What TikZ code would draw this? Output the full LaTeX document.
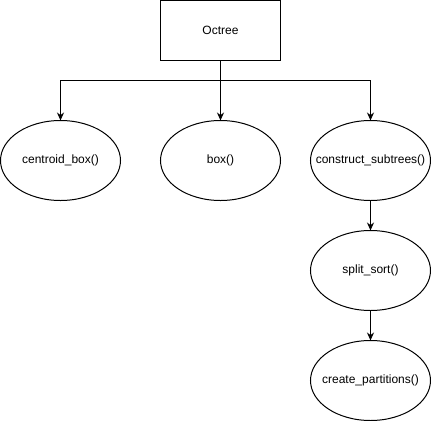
\documentclass[tikz,border=0pt]{standalone}
\usepackage{fontspec}
\setmainfont{Liberation Sans}
\usetikzlibrary{shapes.geometric,arrows.meta}
% label of zero width, so the oval keeps its own fixed size
\newcommand{\flatlabel}[1]{\makebox[0pt][c]{#1}}
\begin{document}
\begin{tikzpicture}[x=1bp,y=-1bp,
  every node/.style={font=\fontsize{12bp}{14bp}\selectfont, text=black},
  classbox/.style={draw=black, line width=1bp, minimum width=120bp, minimum height=60bp, inner sep=0pt, outer sep=0pt},
  fnoval/.style={draw=black, line width=1bp, ellipse, minimum width=120bp, minimum height=80bp, inner sep=0pt, outer sep=0pt},
  arr/.style={draw=black, line width=1bp, -{Stealth[length=8bp,width=7bp]}},
  link/.style={draw=black, line width=1bp}]
  \useasboundingbox (0,0) rectangle (431,421);

  \node[classbox] (oct) at (220.5,30.5) {Octree};
  \node[fnoval] (cb) at (60.5,160.5) {\flatlabel{centroid\_box()}};
  \node[fnoval] (bx) at (220.5,160.5) {\flatlabel{box()}};
  \node[fnoval] (cs) at (370.5,160.5) {\flatlabel{construct\_subtrees()}};
  \node[fnoval] (ss) at (370.5,270.5) {\flatlabel{split\_sort()}};
  \node[fnoval] (cp) at (370.5,380.5) {\flatlabel{create\_partitions()}};

  \coordinate (hub) at (220.5,80.5);
  \draw[link] (oct.south) -- (hub);
  \draw[arr] (hub) -| (cb.north);
  \draw[arr] (hub) -- (bx.north);
  \draw[arr] (hub) -| (cs.north);
  \draw[arr] (cs.south) -- (ss.north);
  \draw[arr] (ss.south) -- (cp.north);
\end{tikzpicture}
\end{document}
